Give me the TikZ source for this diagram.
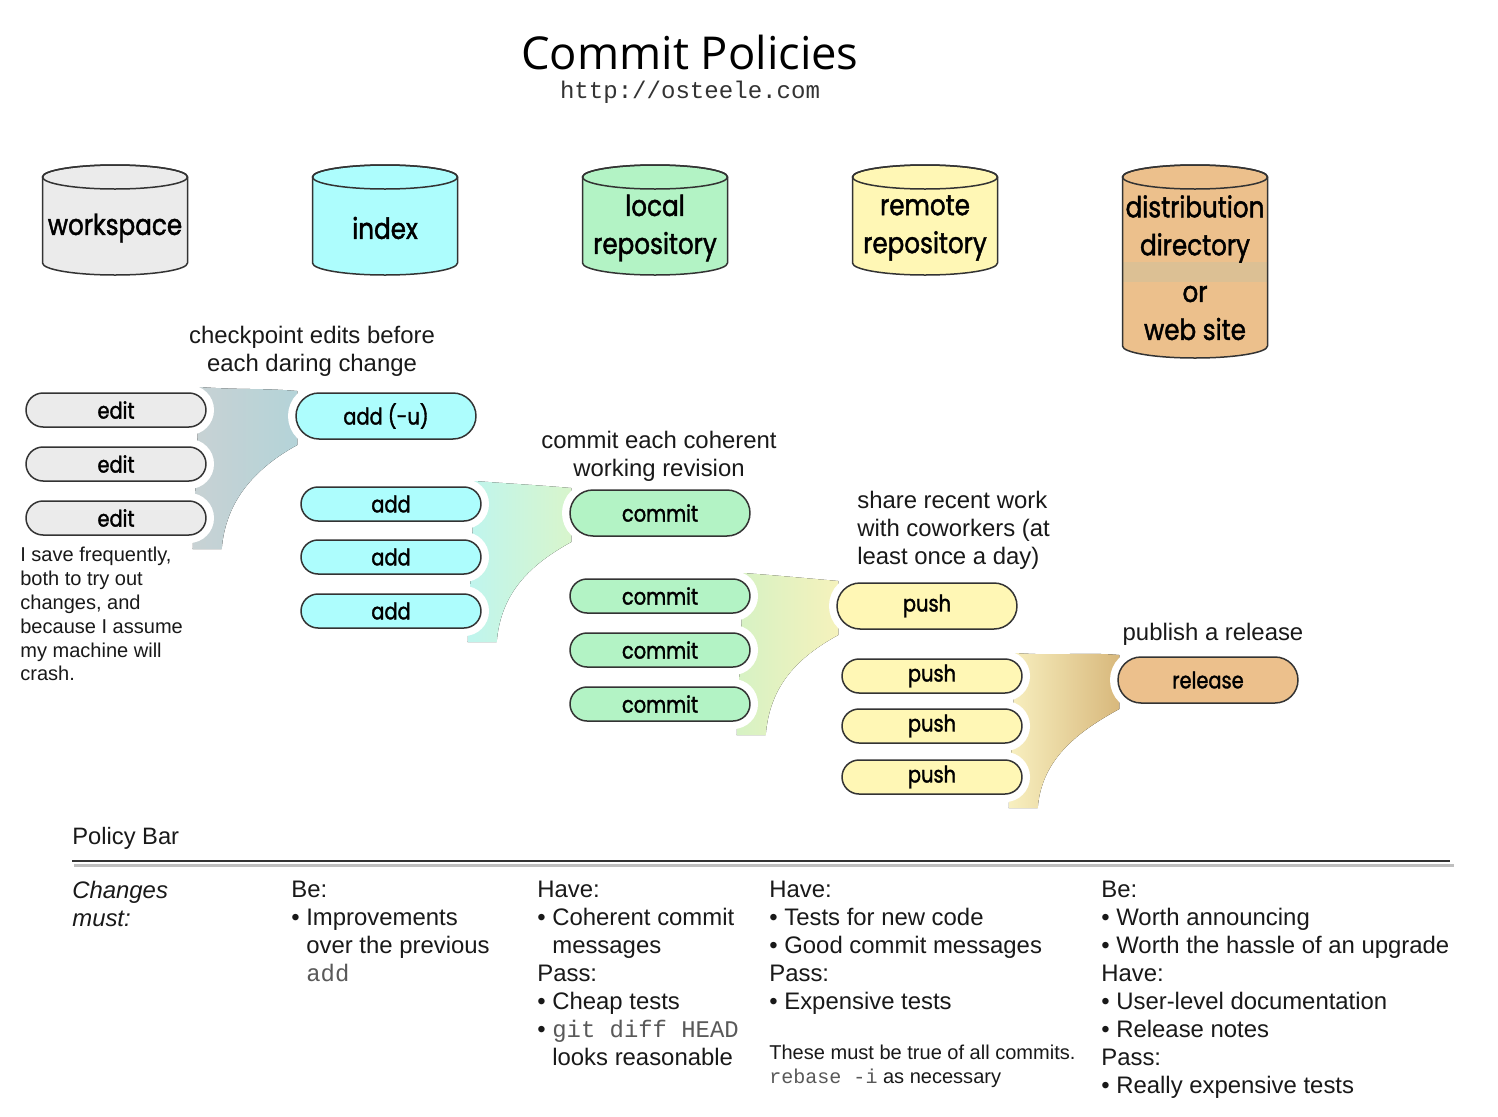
\documentclass[tikz,border=0pt]{standalone}
\usepackage{fontspec}
\setmainfont{Liberation Sans}
\setmonofont{Liberation Mono}
\newfontfamily\drumfont[FakeStretch=0.85, FakeBold=1.5]{Poppins}
\newfontfamily\titlefont{Open Sans}
\usetikzlibrary{shapes.misc,calc,backgrounds}

\definecolor{wsgray}{HTML}{EBEBEB}
\definecolor{idxcyan}{HTML}{ADFDFD}
\definecolor{locgreen}{HTML}{B3F3C5}
\definecolor{remyellow}{HTML}{FFF7B5}
\definecolor{distan}{HTML}{ECC08C}
\definecolor{distband}{HTML}{DCC094}
\definecolor{f1l}{HTML}{C8D2D4}
\definecolor{f1r}{HTML}{B4D3D8}
\definecolor{f2l}{HTML}{BFF5EE}
\definecolor{f2r}{HTML}{D8F5CC}
\definecolor{f3l}{HTML}{D6F2C4}
\definecolor{f3r}{HTML}{F5F2BC}
\definecolor{f4l}{HTML}{F8F0C0}
\definecolor{f4r}{HTML}{D8B87C}

\newcommand\bul{\textbullet\ }
\newcommand\ind{\phantom{\textbullet\ }}
\newcommand\code[1]{{\ttfamily\color{black!65}#1}}

\begin{document}
\begin{tikzpicture}[x=0.02cm,y=-0.02cm,
   pill/.style={rounded rectangle, draw=black!80, line width=0.3mm, minimum width=3.6cm,
      minimum height=0.68cm, inner sep=0pt, font=\drumfont\fontsize{13}{13}\selectfont,
      preaction={draw=white, line width=3.2mm}},
   bigpill/.style={pill, minimum height=0.92cm},
   drum/.style={draw=black!80, line width=0.3mm},
   drumtext/.style={align=center, font=\drumfont\fontsize{16.5}{21.6}\selectfont},
   note/.style={align=center, inner sep=0pt, text=black!90, font=\fontsize{13.6}{15.9}\selectfont},
   col/.style={anchor=north west, align=left, inner sep=0pt, text=black!90,
      font=\fontsize{13.6}{15.9}\selectfont}]
\path[use as bounding box] (0,0) rectangle (1498,1116);

% title
\node[font=\titlefont\fontsize{25.8}{25.8}\selectfont] (title) at (690,52) {Commit Policies};
\node[font=\ttfamily\fontsize{13.7}{13.7}\selectfont, text=black!80] (url) at (690,92) {http://osteele.com};

% the stores
\foreach \cx/\fc/\nm/\txt in {115/wsgray/workspace/workspace, 385/idxcyan/index/index,
   655/locgreen/local/{local\\repository}, 925/remyellow/remote/{remote\\repository}} {
   \filldraw[drum, fill=\fc] (\cx-72.5,177) -- (\cx-72.5,263)
      arc[start angle=180, end angle=0, x radius=72.5, y radius=12] -- (\cx+72.5,177)
      arc[start angle=0, end angle=-180, x radius=72.5, y radius=12] -- cycle;
   \draw[drum] (\cx,177) ellipse [x radius=72.5, y radius=12];
   \node[drumtext] (\nm) at (\cx,228) {\txt};
}
\fill[distan] (1122.5,177) -- (1122.5,346)
   arc[start angle=180, end angle=0, x radius=72.5, y radius=12] -- (1267.5,177)
   arc[start angle=0, end angle=-180, x radius=72.5, y radius=12] -- cycle;
\fill[distband] (1122.5,262) rectangle (1267.5,282);
\draw[drum] (1122.5,177) -- (1122.5,346)
   arc[start angle=180, end angle=0, x radius=72.5, y radius=12] -- (1267.5,177)
   arc[start angle=0, end angle=-180, x radius=72.5, y radius=12] -- cycle;
\draw[drum] (1195,177) ellipse [x radius=72.5, y radius=12];
\node[drumtext] (dist) at (1195,229) {distribution\\directory};
\node[drumtext] (web) at (1195,313) {or\\web site};

% captions
\node[note] (checkpoint) at (312,351) {checkpoint edits before\\each daring change};
\node[note] (coherent) at (659,456) {commit each coherent\\working revision};
\node[note, anchor=west, align=left] (share) at (857,530) {share recent work\\with coworkers (at\\least once a day)};
\node[note] (publish) at (1213,634) {publish a release};
\node[note, anchor=west, align=left, font=\fontsize{11.4}{13.6}\selectfont] (save) at (20,614)
   {I save frequently,\\both to try out\\changes, and\\because I assume\\my machine will\\crash.};

% the steps
\foreach \y [count=\i] in {410,464,518}
   \node[pill, fill=wsgray] (edit\i) at (116,\y) {edit};
\node[bigpill, fill=idxcyan] (addu) at (386,416) {add (-u)};
\foreach \y [count=\i] in {504,557,611}
   \node[pill, fill=idxcyan] (add\i) at (391,\y) {add};
\node[bigpill, fill=locgreen] (commit0) at (660,513) {commit};
\foreach \y [count=\i] in {596,650,704}
   \node[pill, fill=locgreen] (commit\i) at (660,\y) {commit};
\node[bigpill, fill=remyellow] (push0) at (927,606) {push};
\foreach \y [count=\i] in {676,726,777}
   \node[pill, fill=remyellow] (push\i) at (932,\y) {push};
\node[bigpill, fill=distan] (release) at (1208,680) {release};

% funnels, behind the steps
\begin{scope}[on background layer]
\fill[white] (0,0) rectangle (1498,1116);
\foreach \a/\b/\t/\cl/\cr in {edit1/edit3/addu/f1l/f1r, add1/add3/commit0/f2l/f2r,
   commit1/commit3/push0/f3l/f3r, push1/push3/release/f4l/f4r}
   \fill[left color=\cl, right color=\cr] ($(\a.east)+(-7,-23)$) .. controls +(40,3) and +(-35,-3) ..
      ($(\t.west)+(2,-25)$) -- ($(\t.west)+(2,29)$) .. controls +(-40,22) and +(4,-50) ..
      ($(\b.east)+(15,31)$) -- ($(\b.east)+(-14,31)$) -- cycle;
\end{scope}

% policy bar
\node[anchor=west, inner sep=0pt, text=black!90, font=\fontsize{13.5}{15}\selectfont] (bar) at (72,838) {Policy Bar};
\draw[black!25, line width=0.6mm] (74,865) -- (1454,865);
\draw[black!80, line width=0.5mm] (72,861) -- (1450,861);

\node[col, font=\fontsize{13.6}{15.9}\selectfont\itshape] (must) at (72,881) {Changes\\must:};
\node[col] (addpol) at (291,881) {Be:\\\bul Improvements\\\ind over the previous\\\ind\code{add}};
\node[col] (commitpol) at (537,881) {Have:\\\bul Coherent commit\\\ind messages\\Pass:\\\bul Cheap tests\\\bul\code{git diff HEAD}\\\ind looks reasonable};
\node[col] (pushpol) at (769,881) {Have:\\\bul Tests for new code\\\bul Good commit messages\\Pass:\\\bul Expensive tests};
\node[col, font=\fontsize{11.4}{13.6}\selectfont] (allpol) at (769,1045) {These must be true of all commits.\\\code{rebase -i} as necessary};
\node[col] (releasepol) at (1101,881) {Be:\\\bul Worth announcing\\\bul Worth the hassle of an upgrade\\Have:\\\bul User-level documentation\\\bul Release notes\\Pass:\\\bul Really expensive tests};
\end{tikzpicture}
\end{document}
